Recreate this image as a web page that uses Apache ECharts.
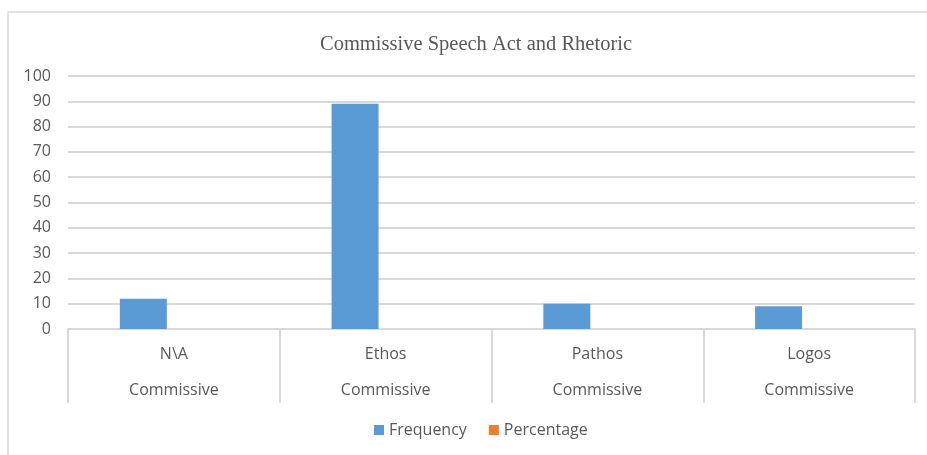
<!DOCTYPE html>
<html>
<head>
<meta charset="utf-8">
<script src="https://cdn.jsdelivr.net/npm/echarts@6/dist/echarts.min.js"></script>
<style>
  html, body { margin: 0; padding: 0; background: #fff; }
  #chart { width: 927px; height: 455px; }
</style>
</head>
<body>
<div id="chart"></div>
<script>
// Rhetorical appeals (inner level) grouped under the speech act (outer level)
const appeals = ['N\\A', 'Ethos', 'Pathos', 'Logos'];
const speechAct = ['Commissive', 'Commissive', 'Commissive', 'Commissive'];
const frequency = [12, 89, 10, 9];
const percentage = [0, 0, 0, 0];
const yTicks = { min: 0, max: 100, interval: 10 };

const labelColor = '#595959';
const lineColor = '#d9d9d9';
const uiFont = 'Open Sans, Lato, sans-serif';

const chart = echarts.init(document.getElementById('chart'));
chart.setOption({
  animation: false,
  title: {
    text: 'Commissive Speech Act and Rhetoric',
    left: 471,
    textAlign: 'center',
    top: 29,
    textStyle: { fontFamily: 'Liberation Serif, serif', fontSize: 20.5, fontWeight: 'normal', color: labelColor }
  },
  graphic: [{
    type: 'rect',
    shape: { x: 8, y: 12, width: 940, height: 460 },
    style: { fill: 'none', stroke: '#d9d9d9', lineWidth: 1.5 },
    silent: true
  }],
  legend: {
    bottom: 12,
    left: 369,
    itemWidth: 10,
    itemHeight: 10,
    itemGap: 22,
    icon: 'rect',
    textStyle: { fontFamily: uiFont, fontSize: 16, color: labelColor },
    data: ['Frequency', 'Percentage']
  },
  grid: { left: 68, right: 12, top: 76, bottom: 126 },
  xAxis: {
    type: 'category',
    data: appeals.map((a, i) => a + '\n' + speechAct[i]),
    axisLine: { lineStyle: { color: lineColor, width: 2 } },
    axisTick: { show: true, interval: 0, length: 74, lineStyle: { color: lineColor, width: 2 } },
    axisLabel: {
      interval: 0,
      margin: 7,
      fontFamily: uiFont,
      fontSize: 16,
      lineHeight: 36,
      color: labelColor
    }
  },
  yAxis: {
    type: 'value',
    min: yTicks.min,
    max: yTicks.max,
    interval: yTicks.interval,
    axisLine: { show: false },
    axisTick: { show: false },
    axisLabel: { fontFamily: uiFont, fontSize: 16, color: labelColor, margin: 17 },
    splitLine: { lineStyle: { color: lineColor, width: 2 } }
  },
  series: [
    { name: 'Frequency', type: 'bar', data: frequency, barWidth: 47, barGap: '30%', itemStyle: { color: '#5b9bd5' } },
    { name: 'Percentage', type: 'bar', data: percentage, barWidth: 47, itemStyle: { color: '#ed7d31' } }
  ]
});
</script>
</body>
</html>
